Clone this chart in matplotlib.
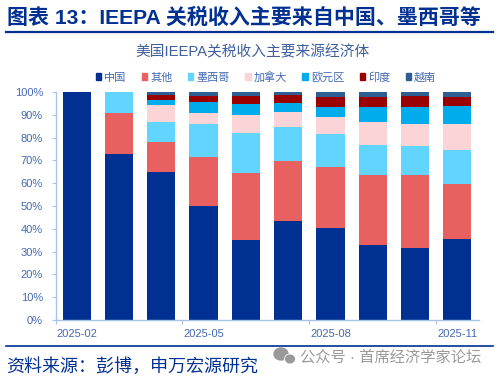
#!/usr/bin/env python3
import numpy as np
import matplotlib
matplotlib.use('Agg')
import matplotlib.pyplot as plt
from matplotlib.patches import Patch, Ellipse

plt.rcParams['font.family'] = ['Liberation Sans', 'Noto Sans CJK SC', 'DejaVu Sans']

months = ['2025-02', '2025-03', '2025-04', '2025-05', '2025-06',
          '2025-07', '2025-08', '2025-09', '2025-10', '2025-11']
shown_months = ['2025-02', '2025-05', '2025-08', '2025-11']

china = [100, 72.7, 64.8, 50.0, 35.0, 43.4, 40.2, 32.7, 31.7, 35.4]
other = [0, 17.9, 13.1, 21.6, 29.6, 26.2, 27.1, 31.0, 31.7, 24.2]
mexico = [0, 9.4, 9.1, 14.4, 17.3, 15.0, 14.1, 13.1, 12.9, 15.0]
canada = [0, 0, 7.4, 4.9, 8.0, 6.8, 7.8, 10.0, 9.7, 11.2]
euro = [0, 0, 2.2, 4.9, 4.8, 3.8, 4.4, 6.5, 7.6, 8.2]
india = [0, 0, 2.1, 2.3, 3.4, 3.5, 4.1, 4.4, 4.6, 4.0]
vietnam = [0, 0, 1.3, 1.9, 1.9, 1.3, 2.3, 2.3, 1.8, 2.0]

series = [('中国', china, '#003092'), ('其他', other, '#E86060'),
          ('墨西哥', mexico, '#61D5FF'), ('加拿大', canada, '#FAD4D6'),
          ('欧元区', euro, '#00ACEC'), ('印度', india, '#9A0000'),
          ('越南', vietnam, '#2F5F92')]

W, H = 498, 378
navy = '#003092'
tick_blue = '#4469B4'
axis_blue = '#A9C4E8'

fig = plt.figure(figsize=(W/100, H/100), dpi=100)
ax = fig.add_axes([55.5/W, 1-320/H, 423/W, 228/H])

x = np.arange(len(months))
bottom = np.zeros(len(months))
for name, vals, col in series:
    ax.bar(x, vals, width=0.665, bottom=bottom, color=col, label=name,
           edgecolor=col, linewidth=0)
    bottom += np.array(vals)

ax.set_xlim(-0.5, 9.5)
ax.set_ylim(0, 100)
ax.set_yticks(np.arange(0, 101, 10))
ax.set_yticklabels([f'{v}%' for v in range(0, 101, 10)], fontsize=8, color=tick_blue)
ax.set_xticks([-0.5, 2.5, 5.5, 8.5])
ax.set_xticklabels([])
for m in shown_months:
    ax.text(months.index(m), -0.04, m, transform=ax.get_xaxis_transform(),
            ha='center', va='top', fontsize=8, color=tick_blue)

for s in ['top', 'right']:
    ax.spines[s].set_visible(False)
for s in ['left', 'bottom']:
    ax.spines[s].set_color(axis_blue)
    ax.spines[s].set_linewidth(1)
ax.tick_params(axis='y', length=3, width=0.8, color=axis_blue, pad=6)
ax.tick_params(axis='x', length=3, width=0.8, color=axis_blue)

handles = [Patch(color=col, label=name) for name, vals, col in series]
ax.legend(handles=handles, ncol=7, loc='center', bbox_to_anchor=(210.5/423, 1+15/228),
          frameon=False, fontsize=8, labelcolor=tick_blue, handlelength=0.5,
          handleheight=0.5, handletextpad=0.25, columnspacing=1.4, borderpad=0)

# header and footer
fig.text(7/W, 1-18/H, '图表 13：IEEPA 关税收入主要来自中国、墨西哥等', fontsize=15.1,
         fontweight='bold', color=navy, ha='left', va='center')
fig.text(252/W, 1-52/H, '美国IEEPA关税收入主要来源经济体', fontsize=10.6,
         color='#3F5F9F', ha='center', va='center')
fig.add_artist(plt.Line2D([6/W, 493/W], [1-32/H, 1-32/H], color=navy, lw=1.6))
fig.add_artist(plt.Line2D([6/W, 493/W], [1-346/H, 1-346/H], color=navy, lw=1.2))
fig.text(6/W, 1-367/H, '资料来源：彭博，申万宏源研究', fontsize=13,
         color=navy, ha='left', va='center')

# watermark
fig.text(300/W, 1-357/H, '公众号 · 首席经济学家论坛', fontsize=11,
         color='#9A9A9A', ha='left', va='center')
fig.add_artist(Ellipse((281/W, 1-354/H), 14/W, 12/H, color='#9A9A9A', transform=fig.transFigure))
fig.add_artist(Ellipse((290/W, 1-359/H), 11/W, 10/H, color='#9A9A9A', ec='white', lw=0.6,
                       transform=fig.transFigure))

fig.savefig('out.png', dpi=100)
